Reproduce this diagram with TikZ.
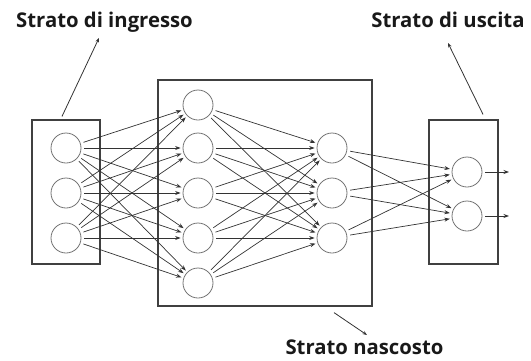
\documentclass[tikz,border=0pt]{standalone}
\usepackage{fontspec}
\setmainfont{Open Sans}
\usetikzlibrary{arrows.meta}
\begin{document}
\begin{tikzpicture}[x=1pt,y=-1pt,
  neuron/.style={circle,draw=black!55,line width=0.8pt,minimum size=30pt,inner sep=0pt},
  layerbox/.style={draw=black!75,line width=1.2pt,inner sep=0pt},
  conn/.style={draw=black!80,line width=0.7pt,-{Stealth[length=5.5pt,width=4pt]},shorten <=3pt,shorten >=2pt},
  lbl/.style={font=\bfseries\fontsize{20.3}{24}\selectfont,text=black!90,anchor=base,inner sep=0pt},
  leader/.style={draw=black!80,line width=0.8pt,-{Stealth[length=4.5pt,width=3.5pt]}}]
\useasboundingbox (0,0) rectangle (531,360);
% boxes
\node[layerbox,minimum width=68pt,minimum height=144pt] (inbox) at (66,192) {};
\node[layerbox,minimum width=214pt,minimum height=226pt] (hidbox) at (265,193) {};
\node[layerbox,minimum width=69pt,minimum height=144pt] (outbox) at (463.5,192) {};
% neurons
\node[neuron] (i1) at (66,148) {};
\node[neuron] (i2) at (66,193) {};
\node[neuron] (i3) at (66,238) {};
\node[neuron] (h1) at (198,105) {};
\node[neuron] (h2) at (198,148) {};
\node[neuron] (h3) at (198,193) {};
\node[neuron] (h4) at (198,238) {};
\node[neuron] (h5) at (198,283) {};
\node[neuron] (g1) at (332,148) {};
\node[neuron] (g2) at (332,193) {};
\node[neuron] (g3) at (332,238) {};
\node[neuron] (o1) at (467,172) {};
\node[neuron] (o2) at (467,216) {};
% connections
\foreach \a in {i1,i2,i3}{\foreach \b in {h1,h2,h3,h4,h5}{\draw[conn] (\a) -- (\b);}}
\foreach \a in {h1,h2,h3,h4,h5}{\foreach \b in {g1,g2,g3}{\draw[conn] (\a) -- (\b);}}
\foreach \a in {g1,g2,g3}{\foreach \b in {o1,o2}{\draw[conn] (\a) -- (\b);}}
\coordinate (e1) at (509,172);
\coordinate (e2) at (509,216);
\draw[conn,shorten >=0pt] (o1) -- (e1);
\draw[conn,shorten >=0pt] (o2) -- (e2);
% labels
\node[lbl] (lin) at (104.5,27.5) {Strato di ingresso};
\node[lbl] (lout) at (448,27.5) {Strato di uscita};
\node[lbl] (lhid) at (364.5,354.5) {Strato nascosto};
\coordinate (t1) at (99,38);
\coordinate (t2) at (448,43);
\coordinate (t3) at (367,335);
\draw[leader] ([xshift=-4pt,yshift=3pt]inbox.north) -- (t1);
\draw[leader] ([xshift=19.5pt,yshift=5pt]outbox.north) -- (t2);
\draw[leader] ([xshift=69pt,yshift=-6pt]hidbox.south) -- (t3);
\end{tikzpicture}
\end{document}
